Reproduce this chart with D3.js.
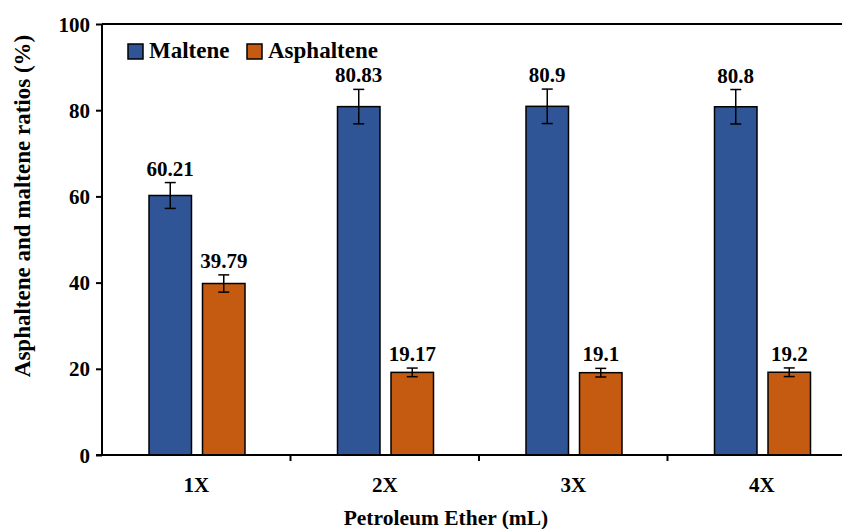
<!DOCTYPE html>
<html>
<head>
<meta charset="utf-8">
<script src="https://cdn.jsdelivr.net/npm/d3@7"></script>
<style>
  body { margin: 0; background: #fff; }
  svg text { font-family: "Liberation Serif", "Times New Roman", serif; font-weight: bold; fill: #000; }
</style>
</head>
<body>
<svg id="chart" width="842" height="529"></svg>
<script>
// chart values
const categories = ["1X", "2X", "3X", "4X"];
const seriesNames = ["Maltene", "Asphaltene"];
const malteneValues = [60.21, 80.83, 80.9, 80.8];
const asphalteneValues = [39.79, 19.17, 19.1, 19.2];
const malteneErrors = [3, 4, 4, 4];
const asphalteneErrors = [2, 1, 1, 1];
const yTicks = [0, 20, 40, 60, 80, 100];

const colors = { Maltene: "#2F5597", Asphaltene: "#C55A11" };

const svg = d3.select("#chart");
const plotLeft = 102, plotRight = 856, plotTop = 24, plotBottom = 455;

const x = d3.scaleBand().domain(categories).range([plotLeft, plotRight]).padding(0);
const xSub = d3.scaleBand().domain(seriesNames).range([47, 143]).paddingInner(0.206);
const y = d3.scaleLinear().domain([0, 100]).range([plotBottom, plotTop]);

// top frame line
svg.append("line")
  .attr("x1", plotLeft).attr("x2", plotRight)
  .attr("y1", plotTop).attr("y2", plotTop)
  .attr("stroke", "#000").attr("stroke-width", 2);

// build rows for bars
const rows = [];
categories.forEach((c, i) => {
  rows.push({ cat: c, series: "Maltene", value: malteneValues[i], err: malteneErrors[i] });
  rows.push({ cat: c, series: "Asphaltene", value: asphalteneValues[i], err: asphalteneErrors[i] });
});

const bars = svg.append("g");
bars.selectAll("rect")
  .data(rows)
  .join("rect")
  .attr("x", (d) => x(d.cat) + xSub(d.series))
  .attr("y", (d) => y(d.value))
  .attr("width", xSub.bandwidth())
  .attr("height", (d) => y(0) - y(d.value))
  .attr("fill", (d) => colors[d.series])
  .attr("stroke", "#000")
  .attr("stroke-width", 1.5);

// error bars
const errG = svg.append("g").attr("stroke", "#000").attr("stroke-width", 1.5);
rows.forEach((d) => {
  const cx = x(d.cat) + xSub(d.series) + xSub.bandwidth() / 2;
  errG.append("line")
    .attr("x1", cx).attr("x2", cx)
    .attr("y1", y(d.value + d.err)).attr("y2", y(d.value - d.err));
  [d.value + d.err, d.value - d.err].forEach((v) => {
    errG.append("line")
      .attr("x1", cx - 5.5).attr("x2", cx + 5.5)
      .attr("y1", y(v)).attr("y2", y(v));
  });
});

// value labels
svg.append("g")
  .selectAll("text")
  .data(rows)
  .join("text")
  .attr("x", (d) => x(d.cat) + xSub(d.series) + xSub.bandwidth() / 2)
  .attr("y", (d) => y(d.value + d.err) - 7)
  .attr("text-anchor", "middle")
  .attr("font-size", 21)
  .text((d) => d.value);

// y axis
const yAxis = svg.append("g")
  .attr("transform", `translate(${plotLeft},0)`)
  .call(d3.axisLeft(y).tickValues(yTicks).tickSize(6).tickPadding(6));
yAxis.select(".domain").attr("stroke-width", 2).attr("d", `M0,${plotBottom}V${plotTop}`);
yAxis.selectAll(".tick line").attr("stroke-width", 2);
yAxis.selectAll(".tick text").attr("font-size", 21).attr("font-family", null).attr("dy", "0.34em");

// x axis with ticks at category boundaries
const xAxis = svg.append("g")
  .attr("transform", `translate(0,${plotBottom})`);
xAxis.append("line")
  .attr("x1", plotLeft - 6).attr("x2", plotRight)
  .attr("stroke", "#000").attr("stroke-width", 2);
xAxis.selectAll("line.bnd")
  .data(categories.slice(1))
  .join("line")
  .attr("class", "bnd")
  .attr("x1", (d) => x(d)).attr("x2", (d) => x(d))
  .attr("y1", 0).attr("y2", 6)
  .attr("stroke", "#000").attr("stroke-width", 2);
xAxis.selectAll("text")
  .data(categories)
  .join("text")
  .attr("x", (d) => x(d) + x.bandwidth() / 2)
  .attr("y", 37)
  .attr("text-anchor", "middle")
  .attr("font-size", 21)
  .text((d) => d);

// axis titles
svg.append("text")
  .attr("x", 446).attr("y", 525)
  .attr("text-anchor", "middle")
  .attr("font-size", 21.5)
  .text("Petroleum Ether (mL)");

svg.append("text")
  .attr("transform", "translate(30,206) rotate(-90)")
  .attr("text-anchor", "middle")
  .attr("font-size", 23)
  .text("Asphaltene and maltene ratios (%)");

// legend
const legend = svg.append("g");
const legendX = [128, 247];
seriesNames.forEach((s, i) => {
  legend.append("rect")
    .attr("x", legendX[i]).attr("y", 44)
    .attr("width", 15).attr("height", 15)
    .attr("fill", colors[s])
    .attr("stroke", "#000").attr("stroke-width", 1.5);
  legend.append("text")
    .attr("x", legendX[i] + 21).attr("y", 58)
    .attr("font-size", 23)
    .text(s);
});
</script>
</body>
</html>
